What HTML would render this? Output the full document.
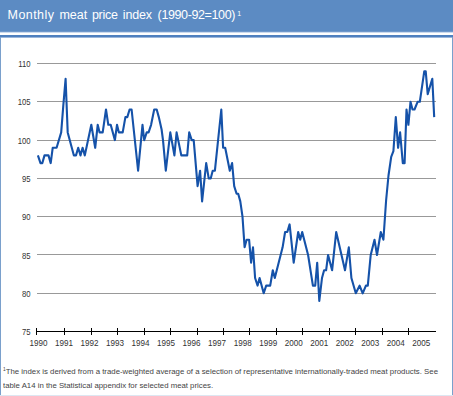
<!DOCTYPE html>
<html><head><meta charset="utf-8"><style>
html,body{margin:0;padding:0;}
body{width:453px;height:396px;position:relative;overflow:hidden;background:#fff;font-family:"Liberation Sans",sans-serif;}
#hdr{position:absolute;left:0;top:0;width:453px;height:31px;background:#5c8bc3;border-bottom:1px solid #6f98cb;}
#title{position:absolute;left:8px;top:9px;color:#fff;font-size:12.5px;letter-spacing:0.0px;word-spacing:1.3px;white-space:nowrap;line-height:1;}
.tw{position:absolute;top:9px;color:#fff;font-size:12.5px;white-space:nowrap;line-height:1;}
.tsup{position:absolute;left:237.3px;top:9.6px;color:#fff;font-size:7px;line-height:1;}
#title sup{font-size:7px;vertical-align:top;position:relative;top:-1px;}
#band{position:absolute;left:0;top:35px;width:453px;height:2px;background:#4f80bf;border-bottom:1px solid #9bb7dc;}
#hdr31{position:absolute;left:0;top:32px;width:453px;height:1px;background:#cbdaee;}
#lb{position:absolute;left:0;top:37px;width:1px;height:359px;background:#7aa0cc;}
#rb{position:absolute;left:452px;top:37px;width:1px;height:359px;background:#7aa0cc;}
#bb{position:absolute;left:0;top:395px;width:453px;height:1px;background:#dde7f2;}
svg{position:absolute;left:0;top:0;}
.fn{position:absolute;left:3px;color:#444;font-size:8px;white-space:nowrap;line-height:1;transform-origin:0 0;}
.fn sup{font-size:5px;vertical-align:top;position:relative;top:-0.8px;}
</style></head><body>
<div id="hdr"><span class="tw" style="left:7.6px;letter-spacing:0.42px">Monthly</span><span class="tw" style="left:59.4px;letter-spacing:0.00px">meat</span><span class="tw" style="left:91.9px;letter-spacing:-0.27px">price</span><span class="tw" style="left:122.8px;letter-spacing:-0.15px">index</span><span class="tw" style="left:157.6px;letter-spacing:-0.38px">(1990-92=100)</span><span class="tsup">1</span></div>
<div id="band"></div><div id="hdr31"></div>
<div id="lb"></div><div id="rb"></div><div id="bb"></div>
<svg width="453" height="396" viewBox="0 0 453 396">
<g stroke="#999" stroke-width="1" shape-rendering="crispEdges"><line x1="37" y1="63.5" x2="436" y2="63.5"/><line x1="37" y1="101.5" x2="436" y2="101.5"/><line x1="37" y1="140.5" x2="436" y2="140.5"/><line x1="37" y1="178.5" x2="436" y2="178.5"/><line x1="37" y1="216.5" x2="436" y2="216.5"/><line x1="37" y1="254.5" x2="436" y2="254.5"/><line x1="37" y1="293.5" x2="436" y2="293.5"/></g>
<g stroke="#000" stroke-width="1" shape-rendering="crispEdges"><line x1="36" y1="331.5" x2="436" y2="331.5"/><line x1="36.6" y1="328" x2="36.6" y2="335"/><line x1="64.5" y1="328" x2="64.5" y2="335"/><line x1="91.3" y1="328" x2="91.3" y2="335"/><line x1="117.5" y1="328" x2="117.5" y2="335"/><line x1="144.2" y1="328" x2="144.2" y2="335"/><line x1="170.5" y1="328" x2="170.5" y2="335"/><line x1="197.2" y1="328" x2="197.2" y2="335"/><line x1="223.4" y1="328" x2="223.4" y2="335"/><line x1="249.9" y1="328" x2="249.9" y2="335"/><line x1="276.6" y1="328" x2="276.6" y2="335"/><line x1="302.8" y1="328" x2="302.8" y2="335"/><line x1="329.3" y1="328" x2="329.3" y2="335"/><line x1="355.6" y1="328" x2="355.6" y2="335"/><line x1="382.4" y1="328" x2="382.4" y2="335"/><line x1="408.9" y1="328" x2="408.9" y2="335"/></g>
<g font-family="Liberation Sans" font-size="9" fill="#333" text-anchor="end"><text transform="translate(30.60,67.10) scale(0.860,1)">110</text><text transform="translate(30.60,105.40) scale(0.860,1)">105</text><text transform="translate(30.60,143.70) scale(0.860,1)">100</text><text transform="translate(30.60,182.00) scale(0.860,1)">95</text><text transform="translate(30.60,220.30) scale(0.860,1)">90</text><text transform="translate(30.60,258.60) scale(0.860,1)">85</text><text transform="translate(30.60,296.90) scale(0.860,1)">80</text><text transform="translate(30.60,335.20) scale(0.860,1)">75</text></g>
<g font-family="Liberation Sans" font-size="9" letter-spacing="0" fill="#333" text-anchor="middle"><text transform="translate(38.40,345.90) scale(0.900,1)">1990</text><text transform="translate(63.93,345.90) scale(0.900,1)">1991</text><text transform="translate(89.46,345.90) scale(0.900,1)">1992</text><text transform="translate(114.99,345.90) scale(0.900,1)">1993</text><text transform="translate(140.52,345.90) scale(0.900,1)">1994</text><text transform="translate(166.05,345.90) scale(0.900,1)">1995</text><text transform="translate(191.58,345.90) scale(0.900,1)">1996</text><text transform="translate(217.11,345.90) scale(0.900,1)">1997</text><text transform="translate(242.64,345.90) scale(0.900,1)">1998</text><text transform="translate(268.17,345.90) scale(0.900,1)">1999</text><text transform="translate(293.70,345.90) scale(0.900,1)">2000</text><text transform="translate(319.23,345.90) scale(0.900,1)">2001</text><text transform="translate(344.76,345.90) scale(0.900,1)">2002</text><text transform="translate(370.29,345.90) scale(0.900,1)">2003</text><text transform="translate(395.82,345.90) scale(0.900,1)">2004</text><text transform="translate(421.35,345.90) scale(0.900,1)">2005</text></g>
<polyline fill="none" stroke="#1552a9" stroke-width="2.1" stroke-linejoin="round" points="37.9,155.4 40.5,163.1 42.3,163.1 44.5,155.4 48.5,155.4 50.7,163.1 52.7,147.8 56.6,147.8 61.2,132.4 63.3,105.6 65.6,78.8 67.7,132.4 73.9,155.4 76.0,155.4 78.2,147.8 80.5,155.4 82.6,147.8 84.8,155.4 91.3,124.8 95.2,147.8 97.7,124.8 99.6,132.4 102.7,132.4 106.0,109.5 108.3,124.8 110.7,124.8 114.9,140.1 117.0,124.8 118.9,132.4 122.7,132.4 125.4,117.1 127.3,117.1 129.6,109.5 131.6,109.5 138.1,170.7 142.5,124.8 144.2,140.1 146.7,132.4 148.6,132.4 151.1,124.8 154.2,109.5 156.7,109.5 158.8,117.1 161.6,129.5 163.0,140.1 165.8,170.7 170.3,132.4 174.4,155.4 176.6,132.4 181.3,155.4 187.2,155.4 189.2,132.4 191.7,140.1 193.7,140.1 197.6,186.1 200.1,170.7 202.1,201.4 206.2,163.1 208.7,178.4 210.7,178.4 212.7,170.7 214.9,170.7 221.3,109.5 223.1,147.8 225.2,147.8 229.8,170.7 232.1,163.1 234.2,186.1 236.6,193.7 238.2,193.7 240.3,201.4 242.5,216.7 244.6,247.3 246.6,239.7 249.1,239.7 251.1,262.7 253.0,247.3 255.1,278.0 257.6,285.6 259.6,278.0 263.7,293.3 266.2,285.6 270.2,285.6 272.8,270.3 274.8,278.0 282.6,247.3 285.1,232.0 287.3,232.0 289.6,224.4 293.7,262.7 298.2,232.0 300.2,239.7 302.2,232.0 308.1,255.0 312.9,285.6 315.2,285.6 317.2,262.7 319.3,301.0 322.0,278.0 324.1,270.3 326.1,270.3 328.1,255.0 332.1,270.3 336.2,232.0 345.0,270.3 348.8,247.3 351.4,278.0 355.8,293.3 359.6,285.6 362.7,293.3 365.9,285.6 367.8,285.6 370.7,255.0 374.5,239.7 377.0,255.0 380.8,232.0 383.4,239.7 386.1,200.5 388.5,175.5 391.2,156.8 393.4,151.2 395.8,117.1 398.1,147.8 400.1,132.4 402.8,163.1 404.6,163.1 406.5,109.5 408.4,124.8 410.5,101.8 412.5,109.5 414.5,109.5 417.6,101.8 419.8,101.8 424.3,71.2 425.7,71.2 427.7,94.1 432.3,78.8 434.2,117.1"/>
</svg>
<div class="fn" style="top:368.2px;transform:scaleX(0.977)"><sup>1</sup>The index is derived from a trade-weighted average of a selection of representative internationally-traded meat products. See</div>
<div class="fn" style="top:382.2px;transform:scaleX(0.974)">table A14 in the Statistical appendix for selected meat prices.</div>
</body></html>
